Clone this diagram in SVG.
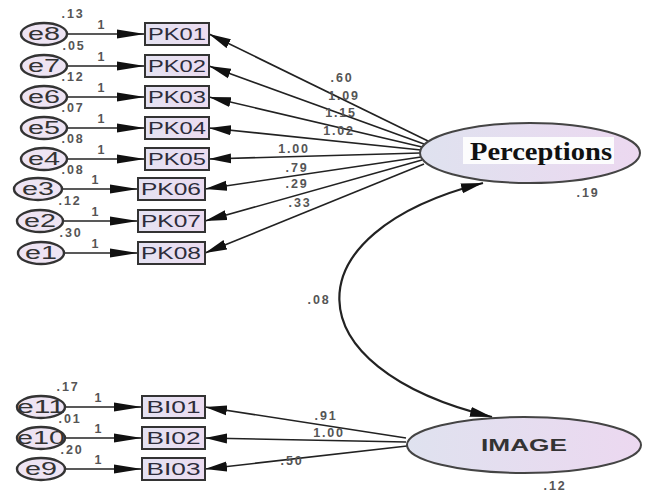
<svg xmlns="http://www.w3.org/2000/svg" width="645" height="493" viewBox="0 0 645 493">
<defs>
<linearGradient id="gBox" x1="0" y1="0" x2="1" y2="0">
<stop offset="0" stop-color="#e4e2f2"/><stop offset="1" stop-color="#ecdcf0"/>
</linearGradient>
<linearGradient id="gLat" x1="0" y1="0" x2="1" y2="0">
<stop offset="0" stop-color="#dfe2ef"/><stop offset="1" stop-color="#ecd8f0"/>
</linearGradient>
<marker id="ahE" markerUnits="userSpaceOnUse" markerWidth="28" markerHeight="10" refX="28" refY="5" orient="auto">
<path d="M0,0.5 L28,5 L0,9.5 z" fill="#111"/>
</marker>
<marker id="ah" markerUnits="userSpaceOnUse" markerWidth="22" markerHeight="11" refX="22" refY="5.5" orient="auto-start-reverse">
<path d="M0,0.5 L22,5.5 L0,10.5 z" fill="#111"/>
</marker>
</defs>
<style>
.box{fill:url(#gBox);stroke:#333;stroke-width:2}
.err{fill:#eee4f3;stroke:#333;stroke-width:2.4}
.lat{fill:url(#gLat);stroke:#444;stroke-width:2}
.bt{font-family:"Liberation Sans",Arial,sans-serif;font-size:17px;fill:#2c2c3a;text-anchor:middle}
.et{font-family:"Liberation Sans",Arial,sans-serif;font-size:18px;fill:#333;text-anchor:middle}
.lb{font-family:"Liberation Sans",Arial,sans-serif;font-size:12.5px;font-weight:bold;fill:#555;text-anchor:middle;letter-spacing:1.8px}
.ep{stroke:#222;stroke-width:1.6;fill:none;marker-end:url(#ahE)}
.lp{stroke:#222;stroke-width:1.6;fill:none;marker-end:url(#ah)}
.cv{stroke:#222;stroke-width:2.2;fill:none;marker-start:url(#ah);marker-end:url(#ah)}
</style>
<rect width="645" height="493" fill="#fff"/>

<g id="connectors">
<line class="ep" x1="67" y1="34" x2="145" y2="34"/>
<line class="ep" x1="67" y1="66" x2="145" y2="66"/>
<line class="ep" x1="67" y1="97" x2="145" y2="97"/>
<line class="ep" x1="67" y1="128" x2="145" y2="128"/>
<line class="ep" x1="67" y1="159" x2="145" y2="159"/>
<line class="ep" x1="62" y1="189" x2="138" y2="189"/>
<line class="ep" x1="63" y1="221" x2="138" y2="221"/>
<line class="ep" x1="64" y1="253" x2="138" y2="253"/>
<line class="ep" x1="65" y1="407" x2="142" y2="407"/>
<line class="ep" x1="65" y1="438" x2="142" y2="438"/>
<line class="ep" x1="65" y1="469" x2="142" y2="469"/>

<line class="lp" x1="428" y1="141" x2="209" y2="34"/>
<line class="lp" x1="424" y1="144" x2="209" y2="66"/>
<line class="lp" x1="422" y1="147" x2="209" y2="97"/>
<line class="lp" x1="421" y1="150" x2="209" y2="128"/>
<line class="lp" x1="420" y1="153" x2="209" y2="159"/>
<line class="lp" x1="421" y1="157" x2="205" y2="189"/>
<line class="lp" x1="422" y1="160" x2="205" y2="221"/>
<line class="lp" x1="424" y1="164" x2="205" y2="253"/>

<line class="lp" x1="406" y1="438" x2="205" y2="407"/>
<line class="lp" x1="406" y1="442" x2="205" y2="438"/>
<line class="lp" x1="407" y1="446" x2="205" y2="469"/>

<path class="cv" d="M483,183 C290,232 290,368 492,417"/>

<text class="lb" x="342" y="82">.60</text>
<text class="lb" x="344" y="100">1.09</text>
<text class="lb" x="341" y="117">1.15</text>
<text class="lb" x="339" y="135">1.02</text>
<text class="lb" x="294" y="153">1.00</text>
<text class="lb" x="297" y="172">.79</text>
<text class="lb" x="297" y="188">.29</text>
<text class="lb" x="300" y="207">.33</text>
<text class="lb" x="319" y="304">.08</text>
<text class="lb" x="326" y="420">.91</text>
<text class="lb" x="329" y="437">1.00</text>
<text class="lb" x="292" y="465">.50</text>
<text class="lb" x="102" y="29">1</text>
<text class="lb" x="102" y="61">1</text>
<text class="lb" x="102" y="92">1</text>
<text class="lb" x="102" y="123">1</text>
<text class="lb" x="102" y="154">1</text>
<text class="lb" x="96" y="184">1</text>
<text class="lb" x="96" y="216">1</text>
<text class="lb" x="96" y="248">1</text>
<text class="lb" x="99" y="402">1</text>
<text class="lb" x="99" y="433">1</text>
<text class="lb" x="99" y="464">1</text>
</g>

<g id="e8"><ellipse class="err" cx="44" cy="34" rx="23" ry="11"/><text class="et" x="44" y="40" textLength="32" lengthAdjust="spacingAndGlyphs">e8</text><text class="lb" x="73" y="18">.13</text></g>
<g id="e7"><ellipse class="err" cx="44" cy="66" rx="23" ry="11"/><text class="et" x="44" y="72" textLength="32" lengthAdjust="spacingAndGlyphs">e7</text><text class="lb" x="74" y="50">.05</text></g>
<g id="e6"><ellipse class="err" cx="44" cy="97" rx="23" ry="11"/><text class="et" x="44" y="103" textLength="32" lengthAdjust="spacingAndGlyphs">e6</text><text class="lb" x="73" y="81">.12</text></g>
<g id="e5"><ellipse class="err" cx="44" cy="128" rx="23" ry="11"/><text class="et" x="44" y="134" textLength="32" lengthAdjust="spacingAndGlyphs">e5</text><text class="lb" x="73" y="112">.07</text></g>
<g id="e4"><ellipse class="err" cx="44" cy="159" rx="23" ry="11"/><text class="et" x="44" y="165" textLength="32" lengthAdjust="spacingAndGlyphs">e4</text><text class="lb" x="73" y="143">.08</text></g>
<g id="e3"><ellipse class="err" cx="38" cy="189" rx="24" ry="11"/><text class="et" x="38" y="195" textLength="32" lengthAdjust="spacingAndGlyphs">e3</text><text class="lb" x="73" y="174">.08</text></g>
<g id="e2"><ellipse class="err" cx="40" cy="221" rx="23" ry="11"/><text class="et" x="40" y="227" textLength="32" lengthAdjust="spacingAndGlyphs">e2</text><text class="lb" x="70" y="205">.12</text></g>
<g id="e1"><ellipse class="err" cx="41" cy="253" rx="23" ry="11"/><text class="et" x="41" y="259" textLength="32" lengthAdjust="spacingAndGlyphs">e1</text><text class="lb" x="71" y="237">.30</text></g>

<g id="PK01"><rect class="box" x="145" y="23" width="64" height="22"/><text class="bt" x="177" y="40" textLength="58" lengthAdjust="spacingAndGlyphs">PK01</text></g>
<g id="PK02"><rect class="box" x="145" y="55" width="64" height="22"/><text class="bt" x="177" y="72" textLength="58" lengthAdjust="spacingAndGlyphs">PK02</text></g>
<g id="PK03"><rect class="box" x="145" y="86" width="64" height="22"/><text class="bt" x="177" y="103" textLength="58" lengthAdjust="spacingAndGlyphs">PK03</text></g>
<g id="PK04"><rect class="box" x="145" y="117" width="64" height="22"/><text class="bt" x="177" y="134" textLength="58" lengthAdjust="spacingAndGlyphs">PK04</text></g>
<g id="PK05"><rect class="box" x="145" y="148" width="64" height="22"/><text class="bt" x="177" y="165" textLength="58" lengthAdjust="spacingAndGlyphs">PK05</text></g>
<g id="PK06"><rect class="box" x="138" y="178" width="67" height="22"/><text class="bt" x="171" y="195" textLength="60" lengthAdjust="spacingAndGlyphs">PK06</text></g>
<g id="PK07"><rect class="box" x="138" y="210" width="67" height="22"/><text class="bt" x="171" y="227" textLength="60" lengthAdjust="spacingAndGlyphs">PK07</text></g>
<g id="PK08"><rect class="box" x="138" y="242" width="67" height="22"/><text class="bt" x="171" y="259" textLength="60" lengthAdjust="spacingAndGlyphs">PK08</text></g>

<g id="e11"><ellipse class="err" cx="41" cy="407" rx="24" ry="11"/><text class="et" x="41" y="413" textLength="48" lengthAdjust="spacingAndGlyphs">e11</text><text class="lb" x="68" y="391">.17</text></g>
<g id="e10"><ellipse class="err" cx="41" cy="438" rx="24" ry="11"/><text class="et" x="41" y="444" textLength="48" lengthAdjust="spacingAndGlyphs">e10</text><text class="lb" x="70" y="423">.01</text></g>
<g id="e9"><ellipse class="err" cx="41" cy="469" rx="24" ry="11"/><text class="et" x="41" y="475" textLength="32" lengthAdjust="spacingAndGlyphs">e9</text><text class="lb" x="72" y="454">.20</text></g>

<g id="BI01"><rect class="box" x="142" y="396" width="63" height="22"/><text class="bt" x="173.5" y="413" textLength="54" lengthAdjust="spacingAndGlyphs">BI01</text></g>
<g id="BI02"><rect class="box" x="142" y="427" width="63" height="22"/><text class="bt" x="173.5" y="444" textLength="54" lengthAdjust="spacingAndGlyphs">BI02</text></g>
<g id="BI03"><rect class="box" x="142" y="458" width="63" height="22"/><text class="bt" x="173.5" y="475" textLength="54" lengthAdjust="spacingAndGlyphs">BI03</text></g>

<g id="Perceptions"><ellipse class="lat" cx="530" cy="153" rx="110" ry="30"/><rect x="463" y="137" width="151" height="27" fill="#fcfcfd"/><text x="541" y="160" font-family="'Liberation Serif','Times New Roman',serif" font-weight="bold" font-size="25" fill="#111" text-anchor="middle" textLength="142" lengthAdjust="spacingAndGlyphs">Perceptions</text><text class="lb" x="588" y="197">.19</text></g>
<g id="IMAGE"><ellipse class="lat" cx="524" cy="445" rx="117" ry="28"/><text x="524" y="451" font-family="'Liberation Sans',Arial,sans-serif" font-weight="bold" font-size="17" fill="#333" text-anchor="middle" textLength="86" lengthAdjust="spacingAndGlyphs">IMAGE</text><text class="lb" x="555" y="490">.12</text></g>
</svg>
